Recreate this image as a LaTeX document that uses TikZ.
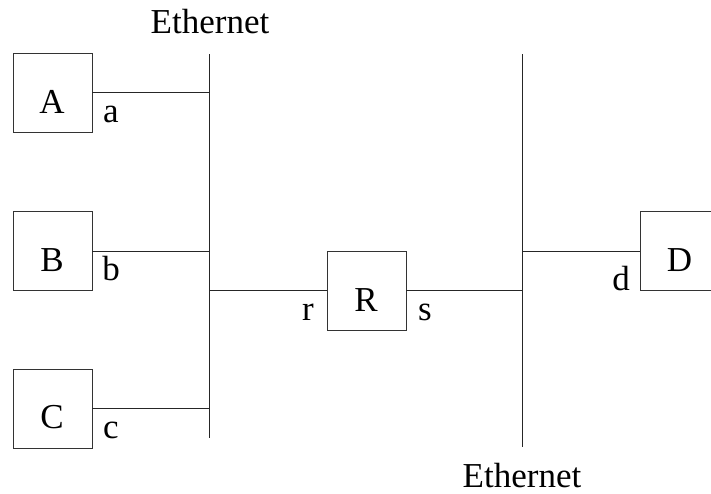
\documentclass[tikz,border=0pt]{standalone}
\usepackage{fontspec}
\setmainfont{Liberation Serif}
\begin{document}
\begin{tikzpicture}[x=1pt,y=-1pt,
  hostbox/.style={draw=black!80,line width=0.9pt,minimum width=79pt,minimum height=79pt,inner sep=0pt},
  lbl/.style={anchor=base,inner sep=0pt,font=\fontsize{35}{40}\selectfont},
  wire/.style={draw=black!85,line width=1pt}]
\useasboundingbox (0,0) rectangle (711,493);
% boxes
\node[hostbox] (A) at (52.5,92.5) {};
\node[hostbox] (B) at (52.5,251) {};
\node[hostbox] (C) at (52.5,408.5) {};
\node[hostbox] (R) at (366.5,290.5) {};
\node[hostbox] (D) at (679.5,251) {};
% box letters
\node[lbl] (tA) at (52,113) {A};
\node[lbl] (tB) at (52,271) {B};
\node[lbl] (tC) at (52,428) {C};
\node[lbl] (tR) at (366,311) {R};
\node[lbl] (tD) at (679.5,271) {D};
% interface letters
\node[lbl] (la) at (111,122) {a};
\node[lbl] (lb) at (111,280) {b};
\node[lbl] (lc) at (111,438) {c};
\node[lbl] (lr) at (308,320) {r};
\node[lbl] (ls) at (425,320) {s};
\node[lbl] (ld) at (621,290) {d};
% ethernet labels
\node[lbl] (eth1) at (210,33) {Ethernet};
\node[lbl] (eth2) at (522,487) {Ethernet};
% ethernet buses
\coordinate (e1t) at (209,54);
\coordinate (e1b) at (209,438);
\coordinate (e2t) at (522,54);
\coordinate (e2b) at (522,447);
\draw[wire] (e1t) -- (e1b);
\draw[wire] (e2t) -- (e2b);
% connectors
\draw[wire] (A.east) -- (A.east -| e1t);
\draw[wire] (B.east) -- (B.east -| e1t);
\draw[wire] (C.east) -- (C.east -| e1t);
\draw[wire] (R.west -| e1t) -- (R.west);
\draw[wire] (R.east) -- (R.east -| e2t);
\draw[wire] (D.west -| e2t) -- (D.west);
\end{tikzpicture}
\end{document}
